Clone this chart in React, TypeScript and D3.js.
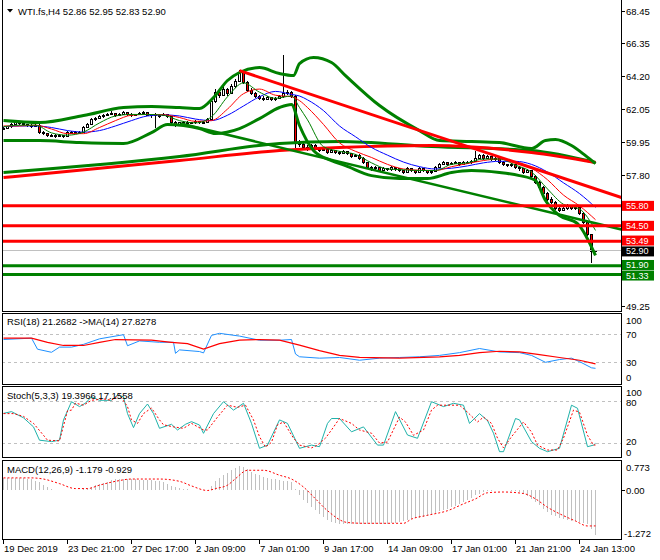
import React from "react";
import * as d3 from "d3";

// ---------- DATA ----------
const title = "WTI.fs,H4  52.86 52.95 52.83 52.90";
const rsiTitle = "RSI(18) 21.2682  ->MA(14) 27.8278";
const stochTitle = "Stoch(5,3,3) 19.3966 17.1558";
const macdTitle = "MACD(12,26,9) -1.179 -0.929";

const timeLabels = ["19 Dec 2019", "23 Dec 21:00", "27 Dec 17:00", "2 Jan 09:00", "7 Jan 01:00", "9 Jan 17:00", "14 Jan 09:00", "17 Jan 01:00", "21 Jan 21:00", "24 Jan 13:00"];
const timeLabelBars = [0, 16, 32, 48, 64, 80, 96, 112, 128, 144];

const priceTicks = [68.45, 66.35, 64.2, 62.05, 59.95, 57.8, 55.65, 53.5, 51.35, 49.25];

// o, h, l, c per H4 bar
const candles: [number, number, number, number][] = [
  [60.80, 60.95, 60.75, 60.85], [60.85, 61.00, 60.80, 60.95], [60.95, 61.20, 60.90, 61.10], [61.10, 61.30, 61.05, 61.20],
  [61.20, 61.25, 61.05, 61.15], [61.15, 61.20, 61.00, 61.10], [61.10, 61.15, 60.95, 61.05], [61.05, 61.10, 60.90, 61.00],
  [61.00, 61.15, 60.95, 61.05], [61.05, 61.10, 60.50, 60.60], [60.60, 60.70, 60.40, 60.50], [60.50, 60.55, 60.30, 60.40],
  [60.40, 60.50, 60.25, 60.35], [60.35, 60.45, 60.20, 60.30], [60.30, 60.45, 60.25, 60.35], [60.35, 60.40, 60.20, 60.30],
  [60.30, 60.65, 60.25, 60.55], [60.55, 60.70, 60.50, 60.60], [60.60, 60.65, 60.45, 60.55], [60.55, 60.70, 60.50, 60.60],
  [60.60, 61.00, 60.55, 60.90], [60.90, 61.20, 60.85, 61.10], [61.10, 61.50, 61.05, 61.40], [61.40, 61.60, 61.35, 61.50],
  [61.50, 61.70, 61.45, 61.60], [61.60, 61.80, 61.55, 61.70], [61.70, 61.85, 61.65, 61.75], [61.75, 61.95, 61.70, 61.80],
  [61.80, 61.85, 61.60, 61.70], [61.70, 61.85, 61.65, 61.75], [61.75, 62.00, 61.70, 61.85], [61.85, 61.90, 61.65, 61.75],
  [61.75, 61.85, 61.60, 61.70], [61.70, 61.80, 61.65, 61.75], [61.75, 61.90, 61.70, 61.80], [61.80, 61.95, 61.75, 61.85],
  [61.85, 61.90, 61.65, 61.70], [61.70, 61.80, 61.55, 61.75], [61.75, 61.85, 60.90, 61.65], [61.65, 61.75, 61.55, 61.70],
  [61.70, 61.85, 61.65, 61.75], [61.75, 61.80, 61.55, 61.60], [61.60, 61.65, 61.10, 61.20], [61.20, 61.30, 60.95, 61.05],
  [61.05, 61.25, 61.00, 61.20], [61.20, 61.35, 61.15, 61.25], [61.25, 61.30, 61.05, 61.15], [61.15, 61.25, 61.10, 61.20],
  [61.20, 61.40, 61.15, 61.30], [61.30, 61.35, 61.10, 61.20], [61.20, 61.30, 61.15, 61.25], [61.25, 61.55, 61.20, 61.45],
  [61.45, 62.80, 61.40, 62.60], [62.60, 63.40, 62.50, 63.20], [63.20, 63.35, 62.85, 63.00], [63.00, 63.60, 62.95, 63.40],
  [63.40, 63.50, 62.95, 63.10], [63.10, 63.75, 63.05, 63.60], [63.60, 64.05, 63.50, 63.90], [63.90, 64.65, 63.85, 64.50],
  [64.50, 64.55, 63.70, 63.80], [63.80, 63.90, 63.20, 63.30], [63.30, 63.45, 63.00, 63.10], [63.10, 63.20, 62.80, 62.90],
  [62.90, 63.00, 62.70, 62.80], [62.80, 62.95, 62.65, 62.75], [62.75, 62.95, 62.70, 62.85], [62.85, 62.90, 62.60, 62.70],
  [62.70, 62.90, 62.65, 62.80], [62.80, 63.00, 62.75, 62.90], [62.90, 65.60, 62.85, 63.10], [63.10, 63.35, 63.00, 63.20],
  [63.20, 63.30, 62.80, 62.90], [62.90, 63.00, 59.55, 59.90], [59.90, 60.10, 59.60, 59.80], [59.80, 59.95, 59.45, 59.60],
  [59.60, 59.75, 59.35, 59.50], [59.50, 59.85, 59.45, 59.70], [59.70, 59.80, 59.45, 59.55], [59.55, 59.65, 59.30, 59.40],
  [59.40, 59.65, 59.35, 59.50], [59.50, 59.55, 59.20, 59.30], [59.30, 59.50, 59.25, 59.40], [59.40, 59.45, 59.20, 59.30],
  [59.30, 59.40, 59.10, 59.20], [59.20, 59.45, 59.15, 59.35], [59.35, 59.40, 59.10, 59.20], [59.20, 59.25, 58.90, 59.00],
  [59.00, 59.20, 58.95, 59.10], [59.10, 59.15, 58.80, 58.90], [58.90, 58.95, 58.50, 58.60], [58.60, 58.65, 58.20, 58.30],
  [58.30, 58.40, 58.10, 58.20], [58.20, 58.40, 58.15, 58.30], [58.30, 58.35, 58.00, 58.10], [58.10, 58.30, 58.05, 58.20],
  [58.20, 58.25, 58.05, 58.15], [58.15, 58.40, 58.10, 58.30], [58.30, 58.35, 58.10, 58.20], [58.20, 58.25, 58.00, 58.10],
  [58.10, 58.15, 57.90, 58.00], [58.00, 58.30, 57.95, 58.20], [58.20, 58.25, 58.00, 58.10], [58.10, 58.15, 57.90, 58.00],
  [58.00, 58.30, 57.95, 58.20], [58.20, 58.25, 58.00, 58.10], [58.10, 58.15, 57.85, 57.95], [57.95, 58.15, 57.90, 58.05],
  [58.05, 58.40, 58.00, 58.30], [58.30, 58.60, 58.25, 58.50], [58.50, 58.70, 58.45, 58.60], [58.60, 58.65, 58.40, 58.50],
  [58.50, 58.65, 58.45, 58.55], [58.55, 58.70, 58.50, 58.60], [58.60, 58.65, 58.40, 58.50], [58.50, 58.75, 58.45, 58.65],
  [58.65, 58.70, 58.50, 58.60], [58.60, 58.80, 58.55, 58.70], [58.70, 59.40, 58.65, 58.90], [58.90, 59.20, 58.85, 59.10],
  [59.10, 59.15, 58.80, 58.90], [58.90, 59.10, 58.85, 59.00], [59.00, 59.05, 58.70, 58.80], [58.80, 59.00, 58.75, 58.90],
  [58.90, 58.95, 58.50, 58.60], [58.60, 58.70, 58.40, 58.50], [58.50, 58.55, 58.30, 58.40], [58.40, 58.60, 58.35, 58.50],
  [58.50, 58.55, 58.20, 58.30], [58.30, 58.40, 58.10, 58.20], [58.20, 58.25, 57.90, 58.00], [58.00, 58.20, 57.95, 58.10],
  [58.10, 58.15, 57.60, 57.70], [57.70, 57.80, 57.20, 57.30], [57.30, 57.40, 56.90, 57.00], [57.00, 57.10, 56.50, 56.60],
  [56.60, 56.70, 56.10, 56.20], [56.20, 56.35, 55.90, 56.00], [56.00, 56.10, 55.50, 55.60], [55.60, 55.75, 55.40, 55.50],
  [55.50, 55.70, 55.45, 55.60], [55.60, 55.90, 55.55, 55.80], [55.80, 55.85, 55.50, 55.60], [55.60, 55.85, 55.55, 55.70],
  [55.70, 55.75, 55.20, 55.30], [55.30, 55.40, 54.60, 54.70], [54.70, 54.80, 53.85, 53.95], [53.95, 54.00, 52.05, 52.86],
  [52.86, 52.95, 52.83, 52.90],
];

// Overlay lines: [bar index, price]
const bbUpper: [number, number][] = [[0, 61.35], [9, 61.22], [20, 61.68], [30, 62.2], [37, 62.27], [44, 62.2], [49, 62.14], [52.5, 62.85], [56, 63.96], [59, 64.48], [64, 64.8], [69, 64.41], [72.5, 64.28], [74, 65.06], [77.5, 65.46], [82, 65.13], [85.5, 64.28], [94, 62.33], [104, 60.7], [109, 60.05], [117, 59.99], [124, 59.92], [132, 59.53], [135.5, 60.05], [138, 60.12], [142, 59.73], [145.5, 59.07], [148, 58.55]];
const bbLower: [number, number][] = [[0, 60.05], [9, 60.05], [19, 59.92], [30, 59.86], [37, 60.57], [41, 61.09], [49, 60.83], [53, 60.51], [59, 60.83], [64, 61.48], [69, 62.2], [72, 62.4], [74, 61.03], [77.5, 59.4], [82, 58.75], [85.5, 58.42], [92, 57.77], [99, 57.58], [106, 57.58], [112, 57.97], [117, 58.1], [124, 57.97], [129, 57.77], [133, 57.45], [135.5, 56.15], [139, 55.17], [143.5, 54.65], [148, 52.57]];
const longGreen: [number, number][] = [[0, 57.97], [44, 59.01], [69, 59.86], [84, 59.99], [107, 59.66], [132, 59.4], [148, 58.62]];
const longRed: [number, number][] = [[0, 57.64], [44, 58.75], [69, 59.4], [84, 59.6], [107, 59.73], [132, 59.27], [148, 58.62]];

const maGreen: [number, number][] = [[0, 60.95], [4, 61.05], [8, 61.05], [12, 60.55], [16, 60.4], [20, 60.6], [24, 61.2], [28, 61.65], [32, 61.75], [36, 61.75], [40, 61.7], [44, 61.35], [48, 61.2], [52, 61.6], [56, 62.9], [60, 63.8], [64, 63.2], [68, 62.8], [72, 62.95], [74, 62.2], [76, 61.4], [80, 59.65], [84, 59.35], [88, 59.15], [92, 58.6], [96, 58.2], [100, 58.15], [104, 58.1], [108, 58.1], [112, 58.5], [116, 58.6], [120, 58.85], [124, 58.85], [128, 58.45], [132, 58.0], [136, 56.9], [140, 55.9], [144, 55.6], [148, 54.2]];
const maRed: [number, number][] = [[0, 61.0], [4, 61.0], [8, 61.05], [12, 60.8], [16, 60.5], [20, 60.5], [24, 60.9], [28, 61.35], [32, 61.7], [36, 61.75], [40, 61.73], [44, 61.55], [48, 61.3], [52, 61.35], [56, 62.1], [60, 63.1], [64, 63.4], [68, 63.0], [72, 62.9], [74, 62.65], [76, 62.2], [80, 61.1], [84, 59.9], [88, 59.35], [92, 58.95], [96, 58.5], [100, 58.2], [104, 58.12], [108, 58.1], [112, 58.35], [116, 58.55], [120, 58.75], [124, 58.85], [128, 58.65], [132, 58.25], [136, 57.5], [140, 56.5], [144, 55.8], [148, 54.9]];
const maBlue: [number, number][] = [[0, 60.95], [4, 61.0], [8, 61.0], [12, 60.9], [16, 60.7], [20, 60.6], [24, 60.7], [28, 61.0], [32, 61.35], [36, 61.65], [40, 61.72], [44, 61.65], [48, 61.45], [52, 61.35], [56, 61.7], [60, 62.3], [64, 62.9], [68, 63.25], [72, 63.05], [74, 62.95], [76, 62.7], [80, 62.0], [84, 61.0], [88, 60.3], [92, 59.6], [96, 59.1], [100, 58.65], [104, 58.35], [108, 58.2], [112, 58.25], [116, 58.4], [120, 58.6], [124, 58.7], [128, 58.7], [132, 58.5], [136, 58.0], [140, 57.3], [144, 56.6], [148, 55.7]];

const redTrend: [number, number][] = [[59, 64.6], [154.5, 56.34]];
const greenTrend: [number, number][] = [[44.25, 61.16], [154.5, 54.26]];

const redLevels = [55.8, 54.5, 53.49];
const greenLevels = [51.9, 51.33];
const lastPrice = 52.9;

const rsiLine: [number, number][] = [[0, 63], [7, 65], [8.5, 49], [12, 44.5], [14, 52], [17, 52], [20, 56], [24, 64], [30, 70], [31, 54], [34, 61], [39, 59], [42.5, 59], [43, 43], [44, 48], [49, 45.6], [50, 43.6], [52, 69], [54, 72], [59, 68], [64, 62], [69, 62], [72, 63], [73, 42], [74, 38], [79, 36], [84, 37], [89, 33], [94, 36], [99, 37], [104, 38], [109, 40], [114, 44], [119, 50], [124, 45], [129, 44], [132, 40], [135.5, 30], [139, 34], [142, 36], [144, 31], [147, 22], [148, 21.27]];
const rsiMa: [number, number][] = [[0, 65], [7, 65], [11, 59], [15, 54.4], [20, 54.4], [24, 59], [28, 63], [37, 62], [42, 59], [46, 57], [50, 49], [54, 57], [59, 62], [64, 63], [69, 62], [74, 55], [79, 47], [84, 40], [89, 37], [99, 36], [109, 38], [114, 40], [119, 44], [124, 46], [129, 45], [134, 41], [139, 37], [144, 33], [148, 27.83]];

const stochK: [number, number][] = [[0, 62.4], [2, 64.8], [5, 56], [7.5, 43], [9, 24], [12, 22], [14, 24], [15, 53], [17, 79], [19, 72], [20.5, 77], [22, 86], [24, 81], [27, 81], [28.5, 88.6], [30, 86], [31, 62], [32.5, 42], [34, 62], [36, 75.7], [37.5, 62], [39, 41], [42, 46.7], [43.5, 38.6], [45.5, 46.7], [47, 50.5], [49, 45.7], [50, 33.8], [52.5, 62], [55, 79], [57.5, 67], [60, 76.7], [62, 48], [64, 12.4], [66, 17], [69, 53], [71, 48], [74, 12.4], [77, 17], [79, 14.7], [81, 48], [82, 55], [84, 55], [87, 36], [90, 43], [93.5, 17], [95, 17], [98, 64.8], [101, 31.4], [103.5, 26.7], [107, 79], [110, 72], [112.5, 76.7], [115, 74], [116.5, 48], [119, 62], [121, 52], [122.5, 34], [124, 7.6], [125, 7.6], [128, 55], [129, 53], [132, 22], [134, 12.4], [136, 7.6], [139, 12.4], [142, 74], [143.5, 69.6], [146, 14.7], [147.5, 17], [148, 19.4]];
const stochD: [number, number][] = [[0, 62], [2.5, 62], [5, 58], [7.5, 48], [10, 31], [11, 24], [14, 23], [16, 66], [17, 67], [18, 77], [20, 74], [22, 81], [25, 83], [27, 81], [29, 89], [31, 72], [32, 53], [33.5, 48], [35, 62], [37, 70], [39, 53], [40, 46], [42.5, 43], [45, 41], [47, 48], [50, 38.6], [51, 38.6], [53.5, 57], [56, 74], [58.5, 71], [60.5, 74], [62.5, 53], [64, 29], [65.5, 14], [67, 21], [68.5, 46], [70, 50], [72.5, 27], [74, 17], [77, 13], [78.5, 17], [80.5, 27], [82, 38.6], [84, 55], [87, 48], [89, 38.6], [92, 34], [94, 20], [96, 21.4], [99, 57], [100.5, 50], [102.5, 31], [105, 38.6], [107, 67], [108.5, 74], [111, 74], [114, 74], [116, 64], [118.5, 50], [120, 57], [122, 48], [123.5, 27], [125, 13], [127, 29], [130, 50], [132, 35.7], [133.5, 17], [136, 10], [138.5, 10], [140, 27], [142.5, 67], [144, 64], [146, 31], [147.5, 17], [148, 17.16]];

const macdHist = [
  0.33, 0.33, 0.33, 0.33, 0.32, 0.32, 0.31, 0.30,
  0.25, 0.21, 0.15, 0.09, 0.05,
  0.02, 0.01, 0.0, 0.0, 0.0, 0.01,
  0.02, 0.04, 0.06, 0.10, 0.14, 0.17, 0.20,
  0.23, 0.27, 0.29, 0.30, 0.31, 0.31, 0.30,
  0.29, 0.28, 0.28, 0.27, 0.27, 0.26, 0.24, 0.21,
  0.18, 0.13, 0.09, 0.07, 0.05, 0.04, 0.02,
  0.01, 0.0, 0.0, 0.01, 0.12,
  0.25, 0.33, 0.40, 0.46, 0.53, 0.60, 0.63, 0.62,
  0.56, 0.49, 0.44, 0.40, 0.36, 0.34, 0.31, 0.29,
  0.27, 0.26, 0.25, 0.22, 0.05,
  -0.13, -0.25, -0.33, -0.42, -0.52, -0.62, -0.70, -0.78,
  -0.82, -0.85, -0.87, -0.88, -0.88, -0.88, -0.88, -0.88, -0.88, -0.88, -0.88, -0.88, -0.88, -0.88, -0.87, -0.86, -0.84, -0.82, -0.80,
  -0.78, -0.75, -0.73, -0.71, -0.69, -0.66, -0.63, -0.59, -0.55, -0.51,
  -0.48, -0.44, -0.40, -0.36, -0.31, -0.26, -0.20, -0.13, -0.08, -0.04,
  -0.02, -0.01, 0.0, 0.01, 0.01, 0.0, -0.01, -0.02, -0.05,
  -0.08, -0.14, -0.22, -0.31, -0.39, -0.48, -0.57, -0.63, -0.68, -0.72,
  -0.75, -0.77, -0.79, -0.80, -0.82, -0.85, -0.88, -1.0, -1.18,
];
const macdSignal: [number, number][] = [[0, 0.33], [7, 0.33], [10, 0.3], [14, 0.18], [18, 0.05], [21, 0.05], [24, 0.14], [28, 0.24], [32, 0.3], [39, 0.3], [44, 0.24], [47, 0.12], [51, 0.0], [53, 0.05], [56, 0.14], [58, 0.31], [61, 0.53], [65, 0.53], [69, 0.4], [72, 0.3], [75, 0.09], [78, -0.22], [81, -0.53], [86, -0.84], [90, -0.86], [100, -0.86], [102, -0.75], [106, -0.65], [111, -0.53], [115, -0.35], [118, -0.22], [121, -0.06], [125, -0.04], [130, -0.08], [133, -0.22], [136, -0.44], [140, -0.66], [143, -0.8], [146, -0.93], [148, -0.929]];

// ---------- CHART ----------
const FONT = "'Liberation Sans', Arial, sans-serif";
const FS = 9.5;
const GREEN = "#008000";
const RED = "#FF0000";

const L = 2, R = 621;
const MAIN = { top: -1, bottom: 311 };
const RSI = { top: 313, bottom: 384 };
const STO = { top: 386, bottom: 457 };
const MACD = { top: 460, bottom: 539 };

const crisp = (v: number) => Math.round(v - 0.5) + 0.5;

export default function App() {
  const x = d3.scaleLinear().domain([0, 1]).range([3.5, 7.5]);
  const yP = d3.scaleLinear().domain([49.25, 68.45]).range([306.5, 11.5]);
  const yR = d3.scaleLinear().domain([0, 100]).range([383, 314]);
  const yS = d3.scaleLinear().domain([0, 100]).range([457, 387]);
  const yM = d3.scaleLinear().domain([-1.272, 0.773]).range([539, 461]);

  const lineP = d3.line<[number, number]>().x((d) => x(d[0])).y((d) => yP(d[1]));
  const smoothP = d3.line<[number, number]>().x((d) => x(d[0])).y((d) => yP(d[1])).curve(d3.curveMonotoneX);
  const lineR = d3.line<[number, number]>().x((d) => x(d[0])).y((d) => yR(d[1]));
  const lineS = d3.line<[number, number]>().x((d) => x(d[0])).y((d) => yS(d[1]));
  const lineM = d3.line<[number, number]>().x((d) => x(d[0])).y((d) => yM(d[1])).curve(d3.curveMonotoneX);

  const panel = (p: { top: number; bottom: number }, key: string) => (
    <rect key={key} x={L + 0.5} y={p.top + 0.5} width={R - L} height={p.bottom - p.top} fill="none" stroke="#000" strokeWidth={1} />
  );
  const clip = (p: { top: number; bottom: number }, id: string) => (
    <clipPath id={id} key={id}>
      <rect x={L + 1} y={p.top + 1} width={R - L - 1} height={p.bottom - p.top - 1} />
    </clipPath>
  );

  const txt = (s: string, xx: number, yy: number, extra: any = {}) => (
    <text x={xx} y={yy} fontFamily={FONT} fontSize={FS} fill="#000" {...extra}>{s}</text>
  );

  const boxLevels = [...redLevels, lastPrice, ...greenLevels];
  const hiddenByBox = (v: number) => boxLevels.some((b) => Math.abs(yP(b) - yP(v)) < 9);

  const levelBox = (v: number, color: string, key: string, dy = 0) => {
    const yy = yP(v) + dy;
    return (
      <g key={key}>
        <rect x={622} y={yy - 5} width={32} height={10} fill={color} />
        <text x={626} y={yy} dominantBaseline="central" fontFamily={FONT} fontSize={9} fill="#fff">{v.toFixed(2)}</text>
      </g>
    );
  };

  return (
    <div style={{ position: "fixed", left: 0, top: 0, width: 660, height: 560, background: "#fff" }}>
      <svg width={660} height={560} style={{ display: "block" }}>
        <defs>
          {clip(MAIN, "cMain")}
          {clip(RSI, "cRsi")}
          {clip(STO, "cSto")}
          {clip(MACD, "cMacd")}
        </defs>
        <rect x={0} y={0} width={660} height={560} fill="#fff" />

        {/* ---------- MAIN PANEL ---------- */}
        <g clipPath="url(#cMain)">
          <g shapeRendering="crispEdges">
            {candles.map((c, i) => {
              const [o, h, l, cl] = c;
              const xi = x(i);
              const top = yP(Math.max(o, cl));
              const bot = yP(Math.min(o, cl));
              return (
                <g key={i}>
                  <line x1={xi} x2={xi} y1={yP(h)} y2={yP(l)} stroke="#000" strokeWidth={1} />
                  <rect x={xi - 1} y={top} width={2} height={Math.max(bot - top, 1)} fill={cl >= o ? "#fff" : RED} stroke="#000" strokeWidth={1} />
                </g>
              );
            })}
          </g>
          <line x1={L} x2={R} y1={crisp(yP(lastPrice))} y2={crisp(yP(lastPrice))} stroke="#C0C0C0" strokeWidth={1} />
          <path d={smoothP(longGreen) || ""} fill="none" stroke={GREEN} strokeWidth={3} />
          <path d={smoothP(longRed) || ""} fill="none" stroke={RED} strokeWidth={3} />
          <path d={smoothP(bbUpper) || ""} fill="none" stroke={GREEN} strokeWidth={3} />
          <path d={smoothP(bbLower) || ""} fill="none" stroke={GREEN} strokeWidth={3} />
          <path d={smoothP(maBlue) || ""} fill="none" stroke="#0000FF" strokeWidth={1} />
          <path d={smoothP(maRed) || ""} fill="none" stroke={RED} strokeWidth={1} />
          <path d={smoothP(maGreen) || ""} fill="none" stroke={GREEN} strokeWidth={1} />
          <path d={lineP(redTrend) || ""} fill="none" stroke={RED} strokeWidth={3} />
          <path d={lineP(greenTrend) || ""} fill="none" stroke={GREEN} strokeWidth={2.5} />
          {redLevels.map((v, k) => (
            <line key={"r" + k} x1={L} x2={R} y1={yP(v)} y2={yP(v)} stroke={RED} strokeWidth={3} />
          ))}
          {greenLevels.map((v, k) => (
            <line key={"g" + k} x1={L} x2={R} y1={yP(v)} y2={yP(v)} stroke={GREEN} strokeWidth={3} />
          ))}
        </g>
        {panel(MAIN, "pm")}
        <path d="M7,9 L13,9 L10,12.5 Z" fill="#000" />
        {txt(title, 18, 14.5)}

        {priceTicks.map((v) => (
          <g key={v}>
            <line x1={R} x2={R + 4} y1={crisp(yP(v))} y2={crisp(yP(v))} stroke="#000" />
            {!hiddenByBox(v) && txt(v.toFixed(2), 626, yP(v), { dominantBaseline: "central" })}
          </g>
        ))}
        {levelBox(redLevels[0], RED, "lb0")}
        {levelBox(redLevels[1], RED, "lb1")}
        {levelBox(redLevels[2], RED, "lb2", -0.8)}
        {levelBox(lastPrice, "#000", "lp", 1)}
        {levelBox(greenLevels[0], GREEN, "lg0", -0.8)}
        {levelBox(greenLevels[1], GREEN, "lg1", 1)}

        {/* ---------- RSI ---------- */}
        <g clipPath="url(#cRsi)">
          {[70, 30].map((v) => (
            <line key={v} x1={L} x2={R} y1={crisp(yR(v))} y2={crisp(yR(v))} stroke="#C0C0C0" strokeDasharray="3,3" />
          ))}
          <path d={lineR(rsiLine) || ""} fill="none" stroke="#1E90FF" strokeWidth={1} />
          <path d={lineR(rsiMa) || ""} fill="none" stroke={RED} strokeWidth={1.2} />
        </g>
        {panel(RSI, "pr")}
        {txt(rsiTitle, 7, 325)}
        {txt("100", 626, 320, { dominantBaseline: "central" })}
        {txt("70", 626, yR(70), { dominantBaseline: "central" })}
        {txt("30", 626, yR(30), { dominantBaseline: "central" })}
        {txt("0", 626, 377, { dominantBaseline: "central" })}

        {/* ---------- STOCH ---------- */}
        <g clipPath="url(#cSto)">
          {[80, 20].map((v) => (
            <line key={v} x1={L} x2={R} y1={crisp(yS(v))} y2={crisp(yS(v))} stroke="#C0C0C0" strokeDasharray="3,3" />
          ))}
          <path d={lineS(stochK) || ""} fill="none" stroke="#20B2AA" strokeWidth={1} />
          <path d={lineS(stochD) || ""} fill="none" stroke={RED} strokeWidth={1} strokeDasharray="2,2" />
        </g>
        {panel(STO, "ps")}
        {txt(stochTitle, 7, 399)}
        {txt("100", 626, 392, { dominantBaseline: "central" })}
        {txt("80", 626, 402.5, { dominantBaseline: "central" })}
        {txt("20", 626, 441.5, { dominantBaseline: "central" })}
        {txt("0", 626, 452.5, { dominantBaseline: "central" })}

        {/* ---------- MACD ---------- */}
        <g clipPath="url(#cMacd)">
          <g shapeRendering="crispEdges">
            {macdHist.map((v, i) => (
              <line key={i} x1={x(i)} x2={x(i)} y1={yM(0)} y2={yM(v)} stroke="#C0C0C0" strokeWidth={1} />
            ))}
          </g>
          <path d={lineM(macdSignal) || ""} fill="none" stroke={RED} strokeWidth={1} strokeDasharray="2,2" />
        </g>
        {panel(MACD, "pmacd")}
        {txt(macdTitle, 7, 473)}
        <line x1={R} x2={R + 4} y1={crisp(yM(0))} y2={crisp(yM(0))} stroke="#000" />
        {txt("0.773", 626, 467, { dominantBaseline: "central" })}
        {txt("0.00", 626, yM(0), { dominantBaseline: "central" })}
        {txt("-1.272", 624, 533, { dominantBaseline: "central" })}

        {/* ---------- TIME AXIS ---------- */}
        {timeLabelBars.map((b, k) => (
          <g key={b}>
            <line x1={crisp(x(b))} x2={crisp(x(b))} y1={MACD.bottom + 1} y2={MACD.bottom + 5} stroke="#000" />
            {txt(timeLabels[k], x(b) + 0.5, 552)}
          </g>
        ))}
      </svg>
    </div>
  );
}
